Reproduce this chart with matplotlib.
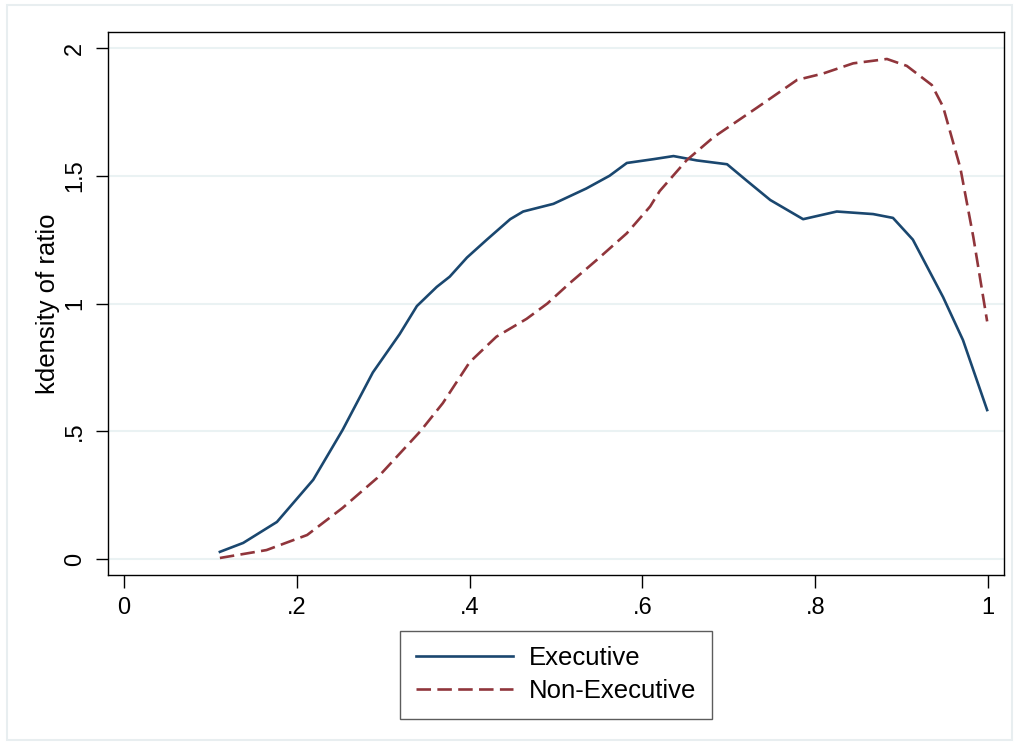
import matplotlib
matplotlib.use("Agg")
import matplotlib.pyplot as plt
from matplotlib.patches import Rectangle

plt.rcParams["font.family"] = ["Liberation Sans", "DejaVu Sans"]

# kernel density estimates
exec_x = [0.111, 0.138, 0.177, 0.219, 0.253, 0.288, 0.319, 0.339, 0.362, 0.377, 0.397, 0.42,
          0.447, 0.462, 0.497, 0.535, 0.562, 0.582, 0.613, 0.636, 0.663, 0.698, 0.721, 0.748,
          0.786, 0.825, 0.867, 0.89, 0.913, 0.948, 0.971, 0.999]
exec_y = [0.028, 0.063, 0.145, 0.31, 0.505, 0.73, 0.88, 0.99, 1.065, 1.105, 1.18, 1.25,
          1.33, 1.36, 1.39, 1.45, 1.50, 1.55, 1.565, 1.577, 1.56, 1.545, 1.48, 1.405,
          1.33, 1.36, 1.35, 1.335, 1.25, 1.025, 0.857, 0.583]

nonexec_x = [0.111, 0.165, 0.212, 0.253, 0.293, 0.343, 0.369, 0.40, 0.431, 0.466, 0.49, 0.516,
             0.547, 0.582, 0.609, 0.62, 0.651, 0.682, 0.732, 0.779, 0.809, 0.844, 0.883, 0.906,
             0.935, 0.948, 0.968, 0.983, 0.999]
nonexec_y = [0.004, 0.035, 0.094, 0.20, 0.317, 0.50, 0.61, 0.77, 0.87, 0.94, 1.0, 1.08,
             1.17, 1.275, 1.38, 1.44, 1.56, 1.65, 1.765, 1.875, 1.90, 1.94, 1.957, 1.93,
             1.855, 1.77, 1.53, 1.26, 0.93]

xticks = [0, 0.2, 0.4, 0.6, 0.8, 1.0]
xticklabels = ["0", ".2", ".4", ".6", ".8", "1"]
yticks = [0, 0.5, 1.0, 1.5, 2.0]
yticklabels = ["0", ".5", "1", "1.5", "2"]

fig = plt.figure(figsize=(10.19, 7.47), dpi=100, facecolor="white")
fig.patches.append(Rectangle((7 / 1019, 1 - 740 / 747), 1005 / 1019, 735 / 747,
                             transform=fig.transFigure, fill=False, edgecolor="#e8eef0", lw=1.5))
ax = fig.add_axes([108 / 1019, 1 - 575 / 747, 896 / 1019, 543 / 747])

ax.plot(exec_x, exec_y, color="#1a476f", lw=1.9, label="Executive")
ax.plot(nonexec_x, nonexec_y, color="#90353b", lw=1.9, ls=(0, (5.5, 2.4)), label="Non-Executive")

ax.set_xlim(-0.0185, 1.0185)
ax.set_ylim(-0.0626, 2.0626)
ax.set_xticks(xticks, xticklabels)
ax.set_yticks(yticks, yticklabels)
ax.tick_params(axis="both", labelsize=17, length=9, width=1, pad=7)
plt.setp(ax.get_yticklabels(), rotation=90, va="center")
ax.grid(axis="y", color="#eaf2f3", lw=1.5)
ax.set_axisbelow(True)
for s in ax.spines.values():
    s.set_color("black"); s.set_linewidth(1)
ax.set_ylabel("kdensity of ratio", fontsize=18.5, labelpad=3)

fig.legend(loc="upper center", bbox_to_anchor=(556 / 1019, 1 - 631 / 747), borderaxespad=0,
           fontsize=18.5, frameon=True, fancybox=False, edgecolor="#333333", handlelength=3.8,
           handletextpad=0.6, borderpad=0.6, labelspacing=0.35)

fig.savefig("out.png", dpi=100, facecolor="white")
